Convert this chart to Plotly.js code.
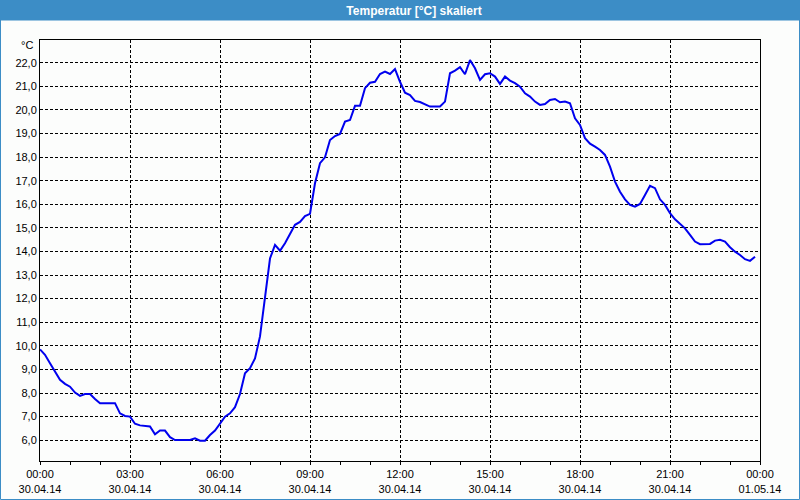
<!DOCTYPE html>
<html>
<head>
<meta charset="utf-8">
<script src="https://cdn.plot.ly/plotly-3.0.1.min.js"></script>
<style>
html,body{margin:0;padding:0;background:#fcfdfc;}
#chart{width:800px;height:500px;}
</style>
</head>
<body>
<div id="chart"></div>
<script>
// Minutes since 30.04.14 00:00 (10-minute samples)
const minutes = [
  0,10,20,30,40,50,60,70,80,90,100,110,120,130,140,150,160,170,180,190,200,210,220,230,
  240,250,260,270,280,290,300,310,320,330,340,350,360,370,380,390,400,410,420,430,440,450,460,470,
  480,490,500,510,520,530,540,550,560,570,580,590,600,610,620,630,640,650,660,670,680,690,700,710,
  720,730,740,750,760,770,780,790,800,810,820,830,840,850,860,870,880,890,900,910,920,930,940,950,
  960,970,980,990,1000,1010,1020,1030,1040,1050,1060,1070,1080,1090,1100,1110,1120,1130,1140,1150,
  1160,1170,1180,1190,1200,1210,1220,1230,1240,1250,1260,1270,1280,1290,1300,1310,1320,1330,1340,1350,
  1360,1370,1380,1390,1400,1410,1420,1430
];
// Temperature in °C
const temperature = [
  9.85,9.62,9.26,8.91,8.56,8.39,8.27,8.02,7.88,7.96,7.96,7.75,7.57,7.57,7.57,7.57,7.14,7.03,7.00,6.70,6.63,6.61,6.58,6.25,
  6.41,6.41,6.13,6.01,6.00,6.00,6.01,6.08,5.98,5.98,6.22,6.41,6.72,7.00,7.14,7.40,7.96,8.84,9.05,9.47,10.40,12.10,13.70,14.28,
  14.03,14.35,14.77,15.13,15.25,15.50,15.59,16.89,17.74,17.99,18.72,18.89,18.98,19.50,19.57,20.17,20.17,20.92,21.15,21.19,21.52,21.62,21.52,21.73,
  21.19,20.73,20.63,20.38,20.33,20.24,20.14,20.14,20.14,20.35,21.55,21.66,21.81,21.51,22.11,21.76,21.27,21.51,21.55,21.41,21.10,21.41,21.24,21.13,
  20.98,20.70,20.56,20.35,20.21,20.25,20.42,20.46,20.32,20.35,20.28,19.64,19.36,18.80,18.57,18.44,18.30,18.09,17.59,16.96,
  16.53,16.21,15.97,15.90,16.01,16.39,16.78,16.68,16.21,15.97,15.62,15.36,15.19,14.98,14.70,14.42,14.31,14.31,14.32,14.46,
  14.49,14.42,14.18,13.99,13.85,13.67,13.60,13.78
];
const xTickVals = [0,180,360,540,720,900,1080,1260,1440];
const xTickTimes = ["00:00","03:00","06:00","09:00","12:00","15:00","18:00","21:00","00:00"];
const xTickDates = ["30.04.14","30.04.14","30.04.14","30.04.14","30.04.14","30.04.14","30.04.14","30.04.14","01.05.14"];
const xMinorVals = [0,60,120,180,240,300,360,420,480,540,600,660,720,780,840,900,960,1020,1080,1140,1200,1260,1320,1380,1440];
const yTickVals = [6,7,8,9,10,11,12,13,14,15,16,17,18,19,20,21,22];
const titleText = "Temperatur [°C] skaliert";
const unitText = "°C";

const W = 800, H = 500, ML = 40, MR = 40, MT = 40, MB = 39;
const PW = W - ML - MR, PH = H - MT - MB;
const px = v => (v - ML) / PW;
const py = v => (H - MB - v) / PH;

const font = {family: "Liberation Sans, Arial, sans-serif", size: 11, color: "#000000"};
const barColor = "#3c8dc6";

const trace = {
  x: minutes, y: temperature, type: "scatter", mode: "lines",
  line: {color: "#0000ee", width: 2}, hoverinfo: "skip"
};

const layout = {
  width: W, height: H,
  margin: {l: ML, r: MR, t: MT, b: MB, pad: 0},
  paper_bgcolor: "#fcfdfc", plot_bgcolor: "#fcfdfc",
  separators: ",.",
  font: font,
  showlegend: false,
  title: {
    text: "<b>" + titleText + "</b>",
    font: {family: "Liberation Sans, Arial, sans-serif", size: 12, color: "#ffffff"},
    x: 414 / W, xanchor: "center", xref: "container",
    y: 1 - 10.5 / H, yanchor: "middle", yref: "container"
  },
  xaxis: {
    range: [0, 1440], fixedrange: true,
    tickmode: "array", tickvals: xTickVals,
    ticktext: xTickTimes.map((t, i) => t + "<br>" + xTickDates[i]),
    ticks: "outside", ticklen: 3, tickcolor: "#000", tickwidth: 1,
    minor: {tickmode: "array", tickvals: xMinorVals, ticks: "outside", ticklen: 3, tickcolor: "#000", showgrid: false},
    showline: true, mirror: true, linecolor: "#000", linewidth: 1,
    showgrid: true, gridcolor: "#000", gridwidth: 1, griddash: "3px,2px",
    zeroline: false, tickfont: font
  },
  yaxis: {
    range: [5.12, 22.96], fixedrange: true,
    tickmode: "array", tickvals: yTickVals, tickformat: ".1f",
    ticks: "", showline: true, mirror: true, linecolor: "#000", linewidth: 1,
    showgrid: true, gridcolor: "#000", gridwidth: 1, griddash: "3px,2px",
    zeroline: false, tickfont: font
  },
  shapes: [
    {type: "rect", xref: "paper", yref: "paper", layer: "below",
     x0: px(0), x1: px(800), y0: py(20.5), y1: py(0),
     fillcolor: barColor, line: {width: 0}},
    {type: "rect", xref: "paper", yref: "paper", layer: "above",
     x0: px(0.5), x1: px(799.5), y0: py(499.5), y1: py(0.5),
     fillcolor: "rgba(0,0,0,0)", line: {color: barColor, width: 1}}
  ],
  annotations: [
    {text: unitText, xref: "paper", yref: "paper", x: px(35), xanchor: "right",
     y: py(45), yanchor: "middle", showarrow: false, font: font}
  ]
};

Plotly.newPlot("chart", [trace], layout, {staticPlot: true, displayModeBar: false});
</script>
</body>
</html>
